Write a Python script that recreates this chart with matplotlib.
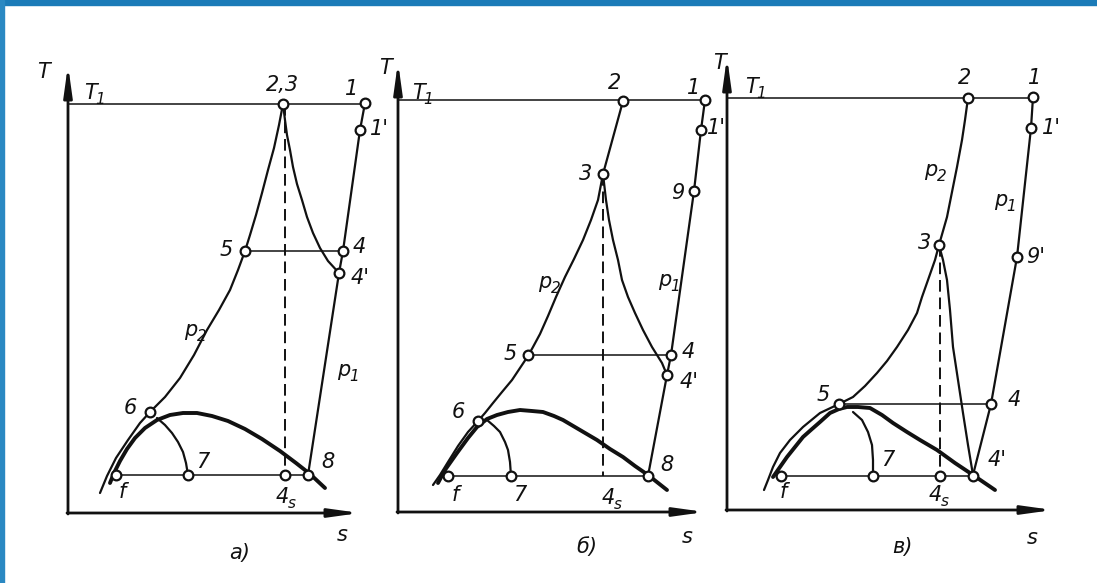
import matplotlib.pyplot as plt
from matplotlib.patches import Rectangle

W, H = 1097, 583
INK = '#111111'

# T-s diagrams, three variants; every panel in its own (s, T) units,
# origin at the corner of the axes
# ---- panel a) ----
a_origin = (68, 513)
a_ends = (292, 448)            # s-arrow tip, T-arrow tip
a_T1 = [(0, 409), (297, 409)]
a_p2 = [(215, 409), (211, 388), (206, 365), (200, 343), (194, 320), (188, 298),
        (182, 278), (177, 262), (170, 243), (162, 223), (151, 203), (139, 183),
        (126, 158), (112, 135), (97, 116), (82, 101), (72, 90), (60, 73),
        (48, 55), (39, 37), (32, 20)]
a_exp = [(215, 409), (217, 393), (219, 378), (222, 363), (225, 346), (229, 329),
         (234, 313), (239, 296), (245, 280), (252, 265), (260, 252), (271, 240)]
a_p1 = [(297, 410), (292, 383), (275, 262), (271, 240), (240, 38)]
a_dome = [(42, 30), (46, 40), (52, 52), (59, 64), (67, 75), (77, 85), (89, 93),
          (102, 98), (115, 100), (129, 100), (144, 97), (160, 92), (177, 84),
          (194, 74), (212, 62), (228, 50), (242, 39), (257, 25)]
a_arc = [(89, 95), (97, 88), (104, 80), (110, 71), (115, 61), (118, 50), (120, 38)]
a_mid = [(177, 262), (275, 262)]
a_low = [(48, 38), (240, 38)]
a_dash = [(217, 409), (217, 38)]
a_pts = [(297, 410), (292, 383), (215, 409), (275, 262), (271, 240), (177, 262),
         (82, 101), (120, 38), (48, 38), (217, 38), (240, 38)]
a_text = [('T', -25, 441), ('T_1', 22, 420), ('2,3', 214, 428), ('1', 284, 424),
          ("1'", 311, 384), ('5', 158, 263), ('4', 291, 266), ("4'", 292, 235),
          ('p_2', 123, 183), ('p_1', 276, 143), ('6', 62, 105), ('7', 135, 51),
          ('f', 54, 21), ('4_s', 214, 16), ('8', 260, 51), ('s', 274, -22)]
a_title = ('а)', 172, -40)

# ---- panel б) ----
b_origin = (398, 512)
b_ends = (307, 450)
b_T1 = [(0, 412), (307, 412)]
b_p2 = [(205, 338), (200, 312), (193, 292), (185, 272), (176, 253), (167, 235),
        (158, 215), (150, 196), (142, 178), (135, 165), (130, 156), (122, 144),
        (114, 132), (104, 120), (95, 109), (87, 99), (80, 91), (70, 80),
        (60, 66), (50, 50), (42, 37), (35, 27)]
b_top = [(225, 411), (205, 338)]
b_exp = [(205, 338), (208, 312), (211, 292), (215, 272), (220, 252), (224, 232),
         (230, 215), (237, 199), (245, 182), (254, 165), (264, 149), (269, 137)]
b_p1 = [(307, 412), (303, 382), (296, 321), (273, 157), (269, 137), (250, 36)]
b_dome = [(40, 29), (47, 42), (59, 59), (70, 74), (79, 85), (89, 93), (99, 97),
          (110, 100), (122, 102), (134, 101), (145, 100), (156, 96), (165, 92),
          (182, 82), (199, 72), (212, 63), (225, 55), (237, 46), (250, 37), (269, 22)]
b_arc = [(89, 92), (96, 86), (102, 80), (107, 70), (110, 62), (112, 50), (113, 36)]
b_mid = [(130, 157), (273, 157)]
b_low = [(50, 36), (250, 36)]
b_dash = [(205, 338), (205, 36)]
b_pts = [(307, 412), (303, 382), (225, 411), (205, 338), (296, 321), (273, 157),
         (269, 137), (130, 157), (80, 91), (113, 36), (50, 36), (250, 36)]
b_text = [('T', -13, 444), ('T_1', 20, 419), ('2', 217, 429), ('1', 296, 424),
          ("1'", 318, 384), ('3', 188, 338), ('9', 280, 319), ('p_2', 147, 230),
          ('p_1', 267, 232), ('5', 112, 158), ('4', 290, 160), ("4'", 291, 130),
          ('6', 60, 100), ('8', 269, 47), ('f', 57, 17), ('7', 122, 17),
          ('4_s', 210, 14), ('s', 289, -25)]
b_title = ('б)', 189, -35)

# ---- panel в) ----
c_origin = (727, 510)
c_ends = (326, 453)
c_T1 = [(0, 412), (306, 412)]
c_top = [(241, 412), (238, 390), (235, 370), (230, 343), (225, 318), (220, 293),
         (212, 265)]
c_p2 = [(212, 265), (208, 250), (201, 230), (195, 213), (190, 197), (181, 180),
        (170, 163), (160, 149), (150, 137), (138, 124), (126, 113), (112, 106),
        (93, 97), (76, 83), (63, 70), (53, 57), (46, 43), (41, 30), (37, 20)]
c_exp = [(212, 265), (216, 250), (220, 230), (223, 200), (226, 163), (231, 130),
         (236, 97), (241, 65), (246, 35)]
c_p1 = [(306, 413), (304, 382), (290, 253), (264, 106), (246, 35)]
c_dome = [(46, 33), (53, 43), (60, 53), (68, 63), (76, 73), (85, 81), (93, 88),
          (103, 97), (112, 101), (120, 103), (131, 103), (143, 102), (155, 95),
          (166, 87), (180, 78), (193, 70), (210, 60), (228, 47), (246, 35), (268, 20)]
c_arc = [(126, 98), (135, 90), (141, 78), (145, 65), (146, 50), (146, 34)]
c_mid = [(112, 106), (264, 106)]
c_low = [(54, 34), (246, 34)]
c_dash = [(213, 265), (213, 34)]
c_pts = [(306, 413), (304, 382), (241, 412), (212, 265), (290, 253), (264, 106),
         (246, 34), (112, 106), (146, 34), (54, 34), (213, 34)]
c_text = [('T', -8, 447), ('T_1', 24, 423), ('2', 238, 432), ('1', 308, 432),
          ("1'", 324, 382), ('p_2', 204, 340), ('p_1', 274, 310), ('3', 198, 267),
          ("9'", 309, 253), ('5', 96, 115), ('4', 287, 110), ("4'", 270, 50),
          ('7', 161, 50), ('f', 56, 18), ('4_s', 208, 15), ('s', 305, -28)]
c_title = ('в)', 175, -37)


def label(ax, s, x, y):
    # italic label, text after "_" goes into a smaller subscript
    main, _, sub = s.partition('_')
    ax.text(x, y, main, fontsize=15, style='italic', color=INK,
            ha='center', va='center')
    if sub:
        ax.annotate(sub, (x, y), xytext=(4, -5), textcoords='offset points',
                    fontsize=11, style='italic', color=INK,
                    ha='left', va='center', annotation_clip=False)


def curve(ax, pts, lw=1.6, **kw):
    xs, ys = zip(*pts)
    ax.plot(xs, ys, color=INK, lw=lw, solid_capstyle='round',
            solid_joinstyle='round', clip_on=False, **kw)


def panel(origin, ends, lines, thin, dome, dash, pts, text, title):
    w, h = 340, 470
    ax = fig.add_axes([origin[0] / W, (H - origin[1]) / H, w / W, h / H])
    ax.set_xlim(0, w)
    ax.set_ylim(0, h)
    ax.axis('off')
    # coordinate axes with arrows
    arrow = dict(arrowstyle='-|>,head_length=1.8,head_width=0.25', lw=2.0,
                 color=INK, shrinkA=0, shrinkB=0)
    ax.annotate('', xy=(0, ends[1]), xytext=(0, -1), arrowprops=arrow,
                annotation_clip=False)
    ax.annotate('', xy=(ends[0], 0), xytext=(-1, 0), arrowprops=arrow,
                annotation_clip=False)
    for ln in thin:
        curve(ax, ln, lw=1.1)
    for ln in lines:
        curve(ax, ln, lw=1.6)
    curve(ax, dome, lw=2.8)
    xs, ys = zip(*dash)
    ax.plot(xs, ys, color=INK, lw=1.4, ls=(0, (6, 3)), clip_on=False)
    xs, ys = zip(*pts)
    ax.plot(xs, ys, 'o', ms=7, mfc='white', mec=INK, mew=1.6, clip_on=False, zorder=5)
    for s, x, y in text:
        label(ax, s, x, y)
    ax.text(title[1], title[2], title[0], fontsize=15, style='italic',
            color=INK, ha='center', va='center')


fig = plt.figure(figsize=(W / 100, H / 100), dpi=100)
fig.patch.set_facecolor('white')

panel(a_origin, a_ends, [a_p2, a_exp, a_p1, a_arc], [a_T1, a_mid, a_low],
      a_dome, a_dash, a_pts, a_text, a_title)
panel(b_origin, b_ends, [b_p2, b_top, b_exp, b_p1, b_arc], [b_T1, b_mid, b_low],
      b_dome, b_dash, b_pts, b_text, b_title)
panel(c_origin, c_ends, [c_top, c_p2, c_exp, c_p1, c_arc], [c_T1, c_mid, c_low],
      c_dome, c_dash, c_pts, c_text, c_title)

# blue frame along the top and left edge
fig.patches.append(Rectangle((0, 1 - 5 / H), 1, 5 / H, transform=fig.transFigure,
                             color='#1b7bb8', zorder=10))
fig.patches.append(Rectangle((0, 0), 4 / W, 1, transform=fig.transFigure,
                             color='#2a88c2', zorder=10))

fig.savefig('out.png', dpi=100)
